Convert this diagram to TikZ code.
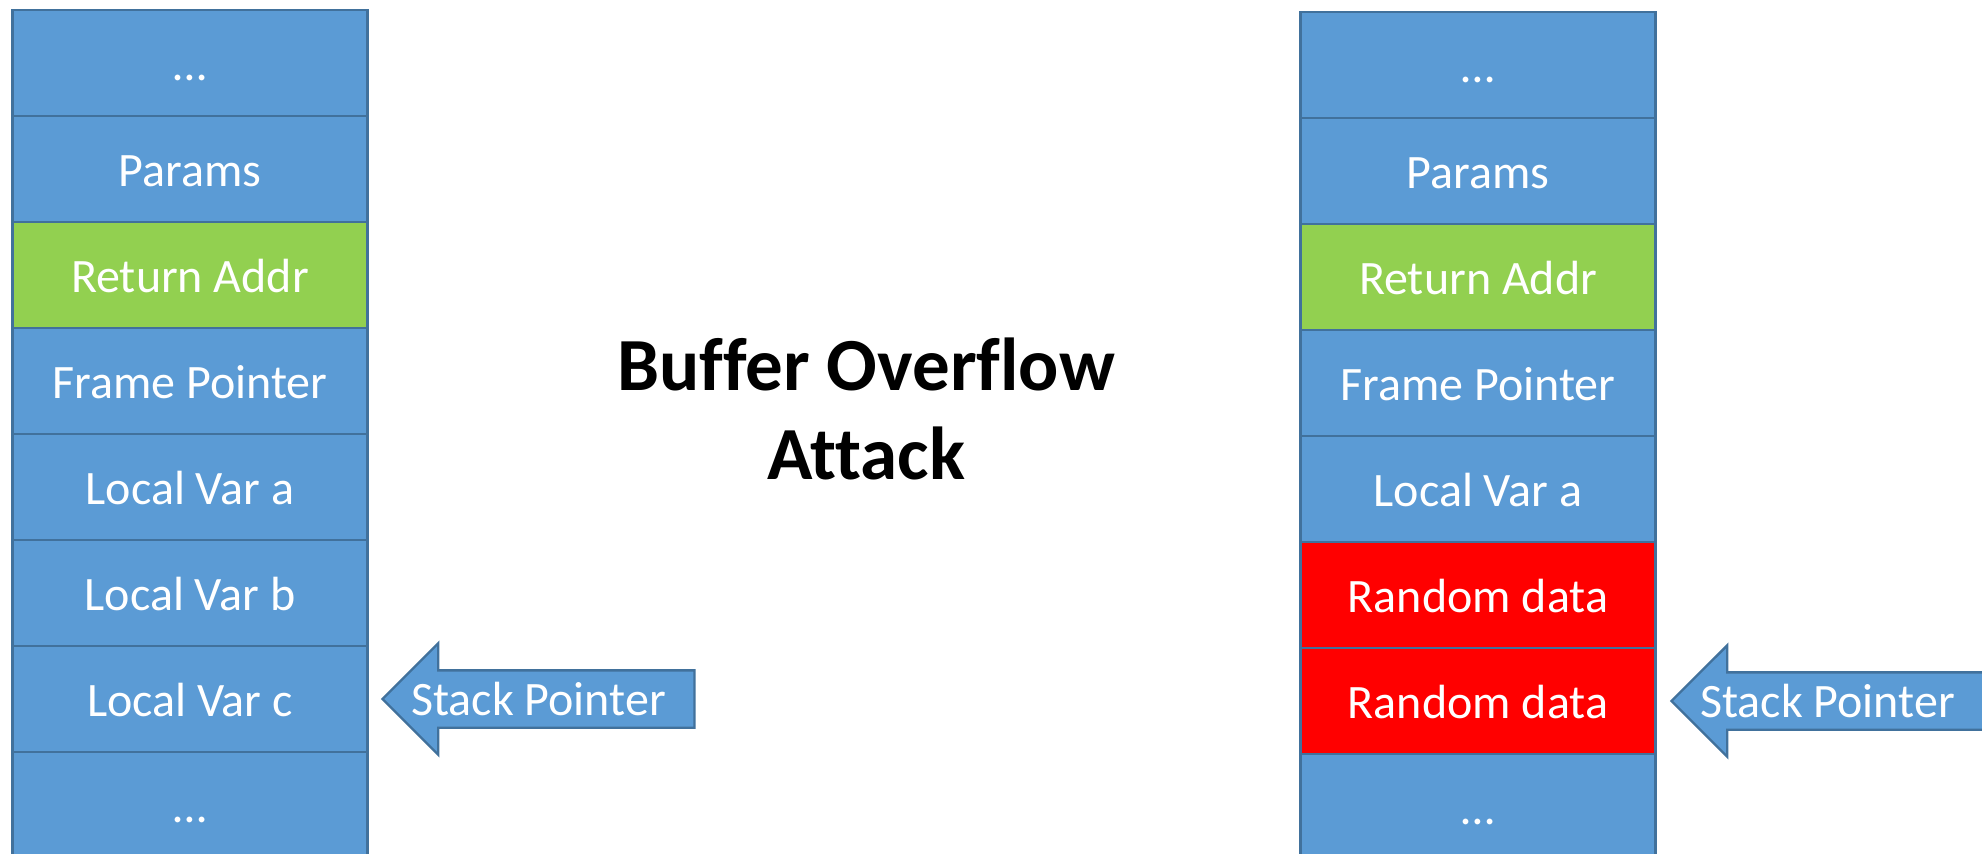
\documentclass[tikz,border=0pt]{standalone}
\usepackage{fontspec}
\setmainfont{Carlito}[Ligatures=NoCommon]
\usetikzlibrary{positioning,shapes.arrows,calc}
\definecolor{cellblue}{HTML}{5B9BD5}
\definecolor{cellline}{HTML}{41719C}
\definecolor{retgreen}{HTML}{92D050}
\definecolor{junkred}{HTML}{FF0000}
\tikzset{
cell/.style={
draw=cellline,
line width=1.2pt,
fill=cellblue,
text=white,
minimum width=177.5pt,
minimum height=53pt,
outer sep=0pt,
inner sep=0pt,
text height=17pt,
text depth=0pt,
font=\fontsize{24}{28}\selectfont
},
retcell/.style={
cell,
fill=retgreen
},
junkcell/.style={
cell,
fill=junkred
},
pointer/.style={
single arrow,
shape border rotate=180,
draw=cellline,
line width=1.2pt,
fill=cellblue,
minimum height=156pt,
single arrow head extend=13.5pt,
single arrow tip angle=90,
inner xsep=0pt,
inner ysep=5.5pt,
text height=16.5pt,
text depth=0pt,
outer sep=0pt
},
ptext/.style={
text=white,
inner sep=0pt,
text height=16.5pt,
text depth=0pt,
font=\fontsize{24}{28}\selectfont
},
title/.style={
align=center,
font=\bfseries\fontsize{37.5}{44.5}\selectfont
}
}

\begin{document}
\begin{tikzpicture}[x=0.5pt,y=-0.5pt,node distance=0pt]
\useasboundingbox (0,0) rectangle (1982,853);
% stack before
\node[cell](a1) at (190,63){…};
\node[cell,below=of a1](a2){Params};
\node[retcell,below=of a2](a3){Return Addr};
\node[cell,below=of a3](a4){Frame Pointer};
\node[cell,below=of a4](a5){Local Var a};
\node[cell,below=of a5](a6){Local Var b};
\node[cell,below=of a6](a7){Local Var c};
\node[cell,below=of a7](a8){…};
\node[pointer,right=7.5pt of a7](spa){};
\node[ptext](spatxt) at ($(spa.tip)!0.5!(spa.tail)$){Stack Pointer};

\node[title](t) at (866,409){Buffer Overflow\\Attack};

% stack after
\node[cell](b1) at (1478,65){…};
\node[cell,below=of b1](b2){Params};
\node[retcell,below=of b2](b3){Return Addr};
\node[cell,below=of b3](b4){Frame Pointer};
\node[cell,below=of b4](b5){Local Var a};
\node[junkcell,below=of b5](b6){Random data};
\node[junkcell,below=of b6](b7){Random data};
\node[cell,below=of b7](b8){…};
\node[pointer,right=8pt of b7](spb){};
\node[ptext](spbtxt) at ($(spb.tip)!0.5!(spb.tail)$){Stack Pointer};
\end{tikzpicture}
\end{document}
